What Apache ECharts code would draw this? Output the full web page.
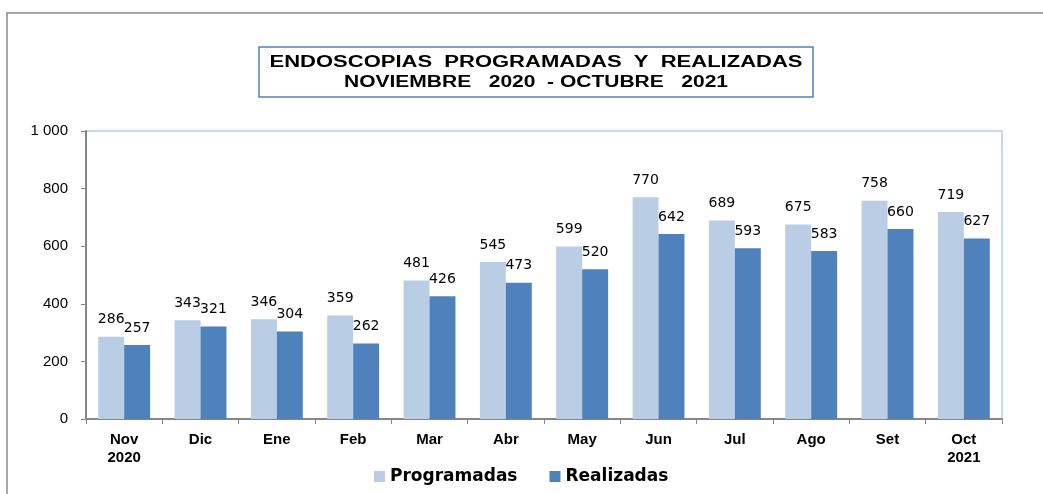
<!DOCTYPE html>
<html>
<head>
<meta charset="utf-8">
<script src="https://cdn.jsdelivr.net/npm/echarts@6/dist/echarts.min.js"></script>
<style>
  html, body { margin: 0; padding: 0; background: #fff; }
  #charts { width: 1043px; height: 494px; }
</style>
</head>
<body>
<div id="charts"></div>
<script>
var months = ['Nov\n2020', 'Dic', 'Ene', 'Feb', 'Mar', 'Abr', 'May', 'Jun', 'Jul', 'Ago', 'Set', 'Oct\n2021'];
var programadas = [286, 343, 346, 359, 481, 545, 599, 770, 689, 675, 758, 719];
var realizadas = [257, 321, 304, 262, 426, 473, 520, 642, 593, 583, 660, 627];
var yTicks = [0, 200, 400, 600, 800, 1000];
var titleLines = ['ENDOSCOPIAS  PROGRAMADAS  Y  REALIZADAS', 'NOVIEMBRE   2020  - OCTUBRE   2021'];

var titleFont = 'bold 16px "Liberation Sans", Arial, sans-serif';

// the title in the picture is spread out, so stretch it to the same width
function stretch(txt, target) {
    var ctx = document.createElement('canvas').getContext('2d');
    ctx.font = titleFont;
    return target / ctx.measureText(txt).width;
}

function titleText(txt, y, w) {
    return {
        type: 'text',
        x: 536, y: y,
        scaleX: stretch(txt, w),
        style: {
            text: txt,
            font: titleFont,
            fill: '#000',
            align: 'center',
            verticalAlign: 'middle'
        }
    };
}

var myChart = echarts.init(document.getElementById('charts'));

var option = {
    animation: false,
    backgroundColor: '#fff',
    graphic: [
        { type: 'polyline', shape: { points: [[7, 494], [7, 13], [1043, 13]] },
          style: { stroke: '#a6a6a6', lineWidth: 2, fill: null } },
        { type: 'rect', shape: { x: 259, y: 47, width: 554, height: 50 },
          style: { stroke: '#4f81bd', lineWidth: 1.5, fill: '#fff' } },
        titleText(titleLines[0], 63, 533),
        titleText(titleLines[1], 83, 384)
    ],
    legend: {
        data: ['Programadas', 'Realizadas'],
        top: 463,
        left: 369,
        icon: 'rect',
        itemWidth: 11,
        itemHeight: 11,
        itemGap: 32,
        textStyle: { fontFamily: '"DejaVu Sans", Verdana, sans-serif', fontWeight: 'bold', fontSize: 17, color: '#000' }
    },
    grid: {
        left: 86, right: 41, top: 131, bottom: 75,
        show: true, borderColor: '#c6d9f1', borderWidth: 2, backgroundColor: '#fff'
    },
    xAxis: {
        type: 'category',
        data: months,
        axisLine: { lineStyle: { color: '#868686', width: 2 } },
        axisTick: { show: true, length: 5, lineStyle: { color: '#868686' } },
        axisLabel: {
            margin: 12, color: '#000', fontWeight: 'bold', fontSize: 15, lineHeight: 18,
            fontFamily: '"Liberation Sans", Arial, sans-serif'
        }
    },
    yAxis: {
        type: 'value',
        min: 0, max: 1000, interval: 200,
        axisLine: { show: true, lineStyle: { color: '#868686', width: 2 } },
        axisTick: { show: true, length: 5, lineStyle: { color: '#868686' } },
        splitLine: { show: false },
        axisLabel: {
            margin: 18, color: '#000', fontSize: 15,
            fontFamily: '"Liberation Sans", Arial, sans-serif',
            formatter: function (v) {
                return yTicks.indexOf(v) >= 0 && v >= 1000 ? '1 000' : String(v);
            }
        }
    },
    series: [
        {
            name: 'Programadas', type: 'bar', data: programadas,
            barGap: '0%', barCategoryGap: '32%',
            itemStyle: { color: '#b9cde5' },
            label: { show: true, position: 'top', distance: 10, color: '#000', fontSize: 14,
                     fontFamily: '"DejaVu Sans", Verdana, sans-serif' }
        },
        {
            name: 'Realizadas', type: 'bar', data: realizadas,
            itemStyle: { color: '#4f81bd' },
            label: { show: true, position: 'top', distance: 10, color: '#000', fontSize: 14,
                     fontFamily: '"DejaVu Sans", Verdana, sans-serif' }
        }
    ]
};
myChart.setOption(option);
</script>
</body>
</html>
